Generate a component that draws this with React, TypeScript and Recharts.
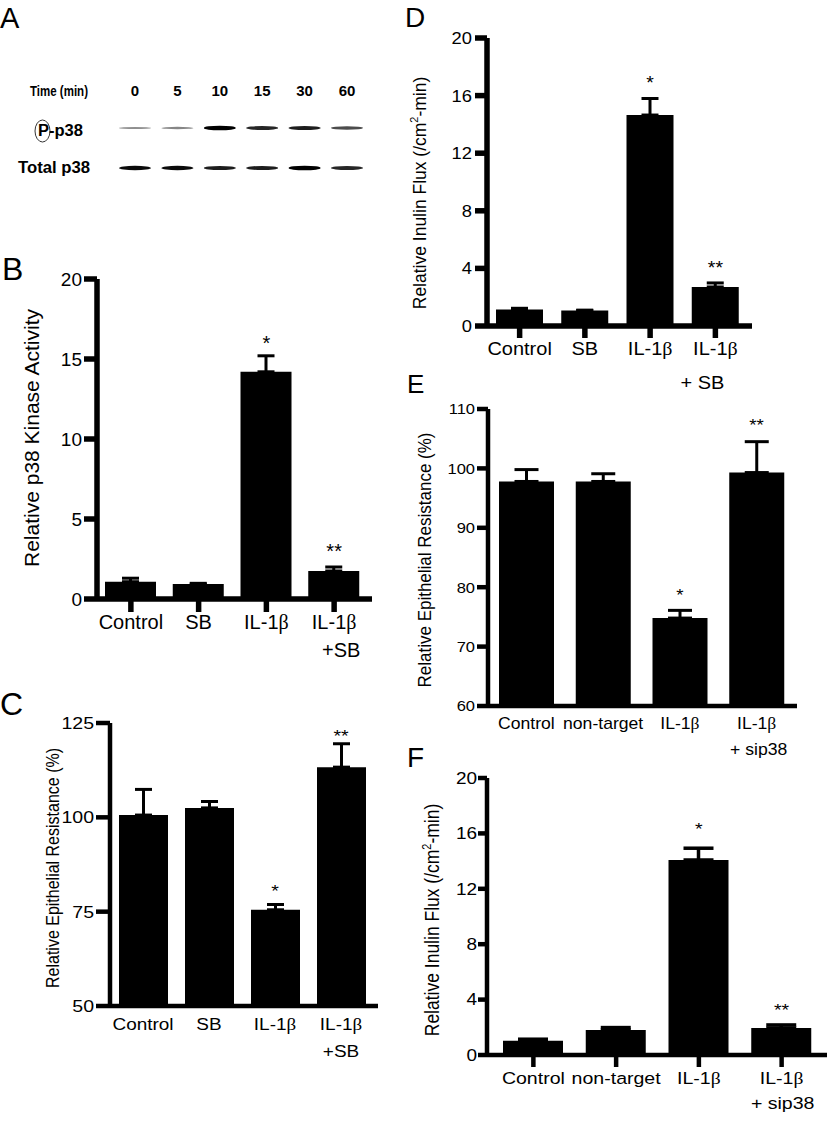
import React from "react";
import {
  ComposedChart,
  ScatterChart,
  Bar,
  ErrorBar,
  Scatter,
  XAxis,
  YAxis,
  Label,
} from "recharts";

const FONT = '"Liberation Sans", Arial, Helvetica, sans-serif';
const SERIF = '"Liberation Serif", "Times New Roman", serif';

// A - western blot, band density per lane (0..1)
const blotTimes = ["0", "5", "10", "15", "30", "60"];
const blotRows = ["P-p38", "Total p38"];
const phosphoDensity = [0.25, 0.3, 1.0, 0.8, 0.85, 0.6];
const totalDensity = [0.95, 0.95, 0.85, 0.85, 1.0, 0.8];

// B - p38 kinase activity
const bCats = ["Control", "SB", "IL-1β", "IL-1β\n+SB"];
const bMean = [1.08, 0.93, 14.2, 1.75];
const bSem = [0.22, 0.05, 1.0, 0.25];
const bStarAt = [null, null, 16.3, 3.3];
const bStars = ["", "", "*", "**"];
const bTicks = [0, 5, 10, 15, 20];

// C - epithelial resistance
const cCats = ["Control", "SB", "IL-1β", "IL-1β\n+SB"];
const cMean = [100.6, 102.5, 75.5, 113.3];
const cSem = [6.8, 1.7, 1.4, 6.2];
const cStarAt = [null, null, 81.5, 122.6];
const cStars = ["", "", "*", "**"];
const cTicks = [50, 75, 100, 125];

// D - inulin flux
const dCats = ["Control", "SB", "IL-1β", "IL-1β\n+ SB"];
const dMean = [1.15, 1.08, 14.65, 2.71];
const dSem = [0.08, 0.02, 1.15, 0.28];
const dStarAt = [null, null, 17.2, 4.3];
const dStars = ["", "", "*", "**"];
const dTicks = [0, 4, 8, 12, 16, 20];

// E - epithelial resistance, siRNA
const eCats = ["Control", "non-target", "IL-1β", "IL-1β\n+ sip38"];
const eMean = [97.8, 97.8, 74.8, 99.3];
const eSem = [2.0, 1.3, 1.3, 5.2];
const eStarAt = [null, null, 79.4, 108];
const eStars = ["", "", "*", "**"];
const eTicks = [60, 70, 80, 90, 100, 110];

// F - inulin flux, siRNA
const fCats = ["Control", "non-target", "IL-1β", "IL-1β\n+ sip38"];
const fMean = [1.02, 1.8, 14.08, 1.95];
const fSem = [0.12, 0.18, 0.85, 0.22];
const fStarAt = [null, null, 16.6, 3.53];
const fStars = ["", "", "*", "**"];
const fTicks = [0, 4, 8, 12, 16, 20];

const makeRows = (cats: string[], mean: number[], sem: number[], starAt: (number | null)[], stars: string[]) =>
  cats.map((cat, i) => ({ cat, mean: mean[i], err: [0, sem[i]], star: starAt[i], starText: stars[i] }));

const phosphoData = phosphoDensity.map((d, i) => ({ lane: i, row: 0, density: d }));
const totalData = totalDensity.map((d, i) => ({ lane: i, row: 1, density: d }));

type Look = {
  box: [number, number, number, number];
  plot: [number, number, number, number]; // left, top, right, bottom
  xAxisH: number;
  axisW: number;
  yTickLen: number;
  yTickGap: number;
  xTickLen: number;
  xTickGap: number;
  tickFs: number;
  catFs: number;
  titleFs: number;
  starFs: number;
  sx: number;
  line2Gap: number;
  line2Dx: number;
  barSize: number;
  xPad: { left: number; right: number };
  capW: number;
  errW: number;
  titleOff: number;
  titleDy: number;
};

const withBeta = (s: string) =>
  s.split("β").flatMap((part, i) =>
    i === 0 ? [part] : [<tspan key={i} fontFamily={SERIF}>β</tspan>, part]
  );

const CatTick = (props: any) => {
  const { x, y, payload, fs, gap, dx2, sx } = props;
  const [l1, l2] = String(payload.value).split("\n");
  return (
    <text transform={`translate(${x},${y}) scale(${sx},1)`} x={0} y={0} textAnchor="middle" fontSize={fs} fontFamily={FONT} fill="#000">
      <tspan x={0} dy={0.71 * fs}>{withBeta(l1)}</tspan>
      {l2 ? <tspan x={dx2 / sx} dy={gap}>{l2}</tspan> : null}
    </text>
  );
};

const YTick = (props: any) => {
  const { x, y, payload, fs, sx } = props;
  return (
    <text transform={`translate(${x},${y}) scale(${sx},1)`} x={0} y={0} dy={0.355 * fs} textAnchor="end" fontSize={fs} fontFamily={FONT} fill="#000">
      {payload.value}
    </text>
  );
};

const StarMark = (props: any) => {
  const { cx, cy, payload, fs, sx } = props;
  if (!payload || !payload.starText || cx == null || cy == null || isNaN(cy)) return null;
  return (
    <text transform={`translate(${cx},${cy}) scale(${sx},1)`} x={0} y={0.575 * fs} textAnchor="middle" fontSize={fs} fontFamily={FONT} fill="#000">
      {payload.starText}
    </text>
  );
};

const fluxTitle = (fs: number) => (
  <>
    Relative Inulin Flux (/cm
    <tspan dy={-0.4 * fs} fontSize={0.62 * fs}>2</tspan>
    <tspan dy={0.4 * fs}>-min)</tspan>
  </>
);

function BarPanel({ rows, domain, ticks, title, look }: { rows: any[]; domain: [number, number]; ticks: number[]; title: React.ReactNode; look: Look }) {
  const [bx, by, bw, bh] = look.box;
  const [x0, y0, x1, y1] = look.plot;
  const margin = { top: y0 - by, right: bx + bw - x1, bottom: by + bh - y1 - look.xAxisH, left: 0 };
  const line = { stroke: "#000", strokeWidth: look.axisW };
  return (
    <div style={{ position: "absolute", left: bx, top: by }}>
      <ComposedChart width={bw} height={bh} data={rows} margin={margin}>
        <XAxis
          dataKey="cat"
          type="category"
          height={look.xAxisH}
          padding={look.xPad}
          interval={0}
          axisLine={line}
          tickLine={look.xTickLen ? line : false}
          tickSize={look.xTickLen}
          tickMargin={look.xTickGap}
          tick={<CatTick fs={look.catFs} gap={look.line2Gap} dx2={look.line2Dx} sx={look.sx} />}
        />
        <YAxis
          type="number"
          domain={domain}
          ticks={ticks}
          interval={0}
          width={x0 - bx}
          axisLine={line}
          tickLine={line}
          tickSize={look.yTickLen}
          tickMargin={look.yTickGap}
          tick={<YTick fs={look.tickFs} sx={look.sx} />}
        >
          <Label
            content={(lp: any) => {
              const vb = lp.viewBox;
              const cx = vb.x + vb.width - look.titleOff;
              const cy = vb.y + vb.height / 2 + look.titleDy;
              return (
                <text
                  transform={`translate(${cx},${cy}) scale(${look.sx},1) rotate(-90)`}
                  x={0}
                  y={0}
                  dy={0.35 * look.titleFs}
                  textAnchor="middle"
                  fontSize={look.titleFs}
                  fontFamily={FONT}
                  fill="#000"
                >
                  {title}
                </text>
              );
            }}
          />
        </YAxis>
        <Bar dataKey="mean" fill="#000" barSize={look.barSize} isAnimationActive={false}>
          <ErrorBar dataKey="err" direction="y" width={look.capW} strokeWidth={look.errW} stroke="#000" isAnimationActive={false} />
        </Bar>
        <Scatter dataKey="star" isAnimationActive={false} shape={(sp: any) => <StarMark {...sp} fs={look.starFs} sx={look.sx} />} />
      </ComposedChart>
    </div>
  );
}

const LaneTick = (props: any) => (
  <text x={props.x} y={props.y} textAnchor="middle" fontSize={15} fontWeight="bold" fontFamily={FONT} fill="#000">
    {blotTimes[props.payload.value]}
  </text>
);

const RowTick = (props: any) => {
  const { x, y, payload } = props;
  if (payload.value === 0) {
    return (
      <g>
        <ellipse cx={x - 45.5} cy={y + 3} rx={7.5} ry={11} fill="none" stroke="#000" strokeWidth={0.8} />
        <text x={x - 5} y={y + 8} textAnchor="end" fontSize={16} fontWeight="bold" fontFamily={FONT} fill="#000" textLength={45} lengthAdjust="spacingAndGlyphs">
          {blotRows[0]}
        </text>
      </g>
    );
  }
  return (
    <text x={x + 2} y={y + 5} textAnchor="end" fontSize={16} fontWeight="bold" fontFamily={FONT} fill="#000" textLength={72} lengthAdjust="spacingAndGlyphs">
      {blotRows[1]}
    </text>
  );
};

const BlotBand = (props: any) => {
  const { cx, cy, payload } = props;
  const d = payload.density;
  return <ellipse cx={cx} cy={cy} rx={16} ry={0.7 + 1.6 * d} fill="#000" fillOpacity={0.25 + 0.75 * d} />;
};

function BlotPanel() {
  return (
    <div style={{ position: "absolute", left: 0, top: 0 }}>
      <ScatterChart width={400} height={190} margin={{ top: 88, right: 53, bottom: 22, left: 0 }}>
        <XAxis
          type="number"
          dataKey="lane"
          domain={[0, 5]}
          ticks={[0, 1, 2, 3, 4, 5]}
          interval={0}
          orientation="top"
          height={40}
          axisLine={false}
          tickLine={false}
          tickSize={0}
          tickMargin={32.5}
          tick={<LaneTick />}
        >
          <Label
            content={(lp: any) => {
              const vb = lp.viewBox;
              return (
                <text x={vb.x - 47} y={vb.y + vb.height - 32.5} textAnchor="end" fontSize={15} fontWeight="bold" fontFamily={FONT} fill="#000" textLength={58} lengthAdjust="spacingAndGlyphs">
                  Time (min)
                </text>
              );
            }}
          />
        </XAxis>
        <YAxis
          type="number"
          dataKey="row"
          domain={[0, 1]}
          ticks={[0, 1]}
          interval={0}
          reversed
          width={135}
          axisLine={false}
          tickLine={false}
          tickSize={0}
          tickMargin={47}
          tick={<RowTick />}
        />
        <Scatter data={phosphoData} shape={BlotBand} isAnimationActive={false} />
        <Scatter data={totalData} shape={BlotBand} isAnimationActive={false} />
      </ScatterChart>
    </div>
  );
}

const lookB: Look = {
  box: [0, 240, 400, 440], plot: [97, 279, 372, 599], xAxisH: 70, axisW: 5.5,
  yTickLen: 13, yTickGap: 2, xTickLen: 13, xTickGap: 3,
  tickFs: 19, catFs: 20, titleFs: 21, starFs: 20, sx: 1,
  line2Gap: 28, line2Dx: 7, barSize: 51, xPad: { left: 0, right: 4 },
  capW: 8.5, errW: 3, titleOff: 65, titleDy: -1,
};
const lookC: Look = {
  box: [0, 700, 400, 420], plot: [110, 723, 378, 1006], xAxisH: 70, axisW: 4.5,
  yTickLen: 14, yTickGap: 2, xTickLen: 0, xTickGap: 12,
  tickFs: 17, catFs: 16.5, titleFs: 16, starFs: 17, sx: 1.15,
  line2Gap: 27, line2Dx: 0, barSize: 49, xPad: { left: 0, right: 4 },
  capW: 8.5, errW: 3, titleOff: 57, titleDy: 3.5,
};
const lookD: Look = {
  box: [400, 0, 427, 410], plot: [487, 38, 752, 326], xAxisH: 70, axisW: 5.5,
  yTickLen: 12, yTickGap: 3, xTickLen: 12, xTickGap: 3.7,
  tickFs: 17, catFs: 18.5, titleFs: 17.5, starFs: 18, sx: 1.08,
  line2Gap: 34, line2Dx: -13, barSize: 47, xPad: { left: 0, right: 4 },
  capW: 8.5, errW: 3, titleOff: 68, titleDy: 11,
};
const lookE: Look = {
  box: [400, 390, 427, 380], plot: [488, 409, 797, 706], xAxisH: 60, axisW: 4.5,
  yTickLen: 11, yTickGap: 2, xTickLen: 0, xTickGap: 12,
  tickFs: 15, catFs: 16, titleFs: 17, starFs: 17, sx: 1.1,
  line2Gap: 26, line2Dx: 2, barSize: 55, xPad: { left: 0, right: 2 },
  capW: 12, errW: 3, titleOff: 64, titleDy: 2.5,
};
const lookF: Look = {
  box: [400, 760, 427, 380], plot: [487, 778, 827, 1055], xAxisH: 60, axisW: 4.5,
  yTickLen: 9, yTickGap: 1, xTickLen: 12, xTickGap: 4.7,
  tickFs: 16.5, catFs: 17, titleFs: 17.5, starFs: 17, sx: 1.15,
  line2Gap: 25, line2Dx: 1, barSize: 60, xPad: { left: 5, right: 4 },
  capW: 15, errW: 3.5, titleOff: 55, titleDy: 3.5,
};

const panelLetters = [
  { t: "A", x: 0, y: 28, fs: 29 },
  { t: "B", x: 2, y: 280, fs: 32 },
  { t: "C", x: 0, y: 715, fs: 32 },
  { t: "D", x: 405, y: 27, fs: 28 },
  { t: "E", x: 407, y: 393, fs: 26 },
  { t: "F", x: 407, y: 767, fs: 28 },
];

export default function App() {
  return (
    <div style={{ position: "absolute", left: 0, top: 0, width: 827, height: 1146, background: "#fff", fontFamily: FONT }}>
      <BlotPanel />
      <BarPanel rows={makeRows(bCats, bMean, bSem, bStarAt, bStars)} domain={[0, 20]} ticks={bTicks} title="Relative p38 Kinase Activity" look={lookB} />
      <BarPanel rows={makeRows(cCats, cMean, cSem, cStarAt, cStars)} domain={[50, 125]} ticks={cTicks} title="Relative Epithelial Resistance (%)" look={lookC} />
      <BarPanel rows={makeRows(dCats, dMean, dSem, dStarAt, dStars)} domain={[0, 20]} ticks={dTicks} title={fluxTitle(lookD.titleFs)} look={lookD} />
      <BarPanel rows={makeRows(eCats, eMean, eSem, eStarAt, eStars)} domain={[60, 110]} ticks={eTicks} title="Relative Epithelial Resistance (%)" look={lookE} />
      <BarPanel rows={makeRows(fCats, fMean, fSem, fStarAt, fStars)} domain={[0, 20]} ticks={fTicks} title={fluxTitle(lookF.titleFs)} look={lookF} />
      <svg width={827} height={1146} style={{ position: "absolute", left: 0, top: 0, pointerEvents: "none" }}>
        {panelLetters.map((p) => (
          <text key={p.t} x={p.x} y={p.y} fontSize={p.fs} fontFamily={FONT} fill="#000">
            {p.t}
          </text>
        ))}
      </svg>
    </div>
  );
}
